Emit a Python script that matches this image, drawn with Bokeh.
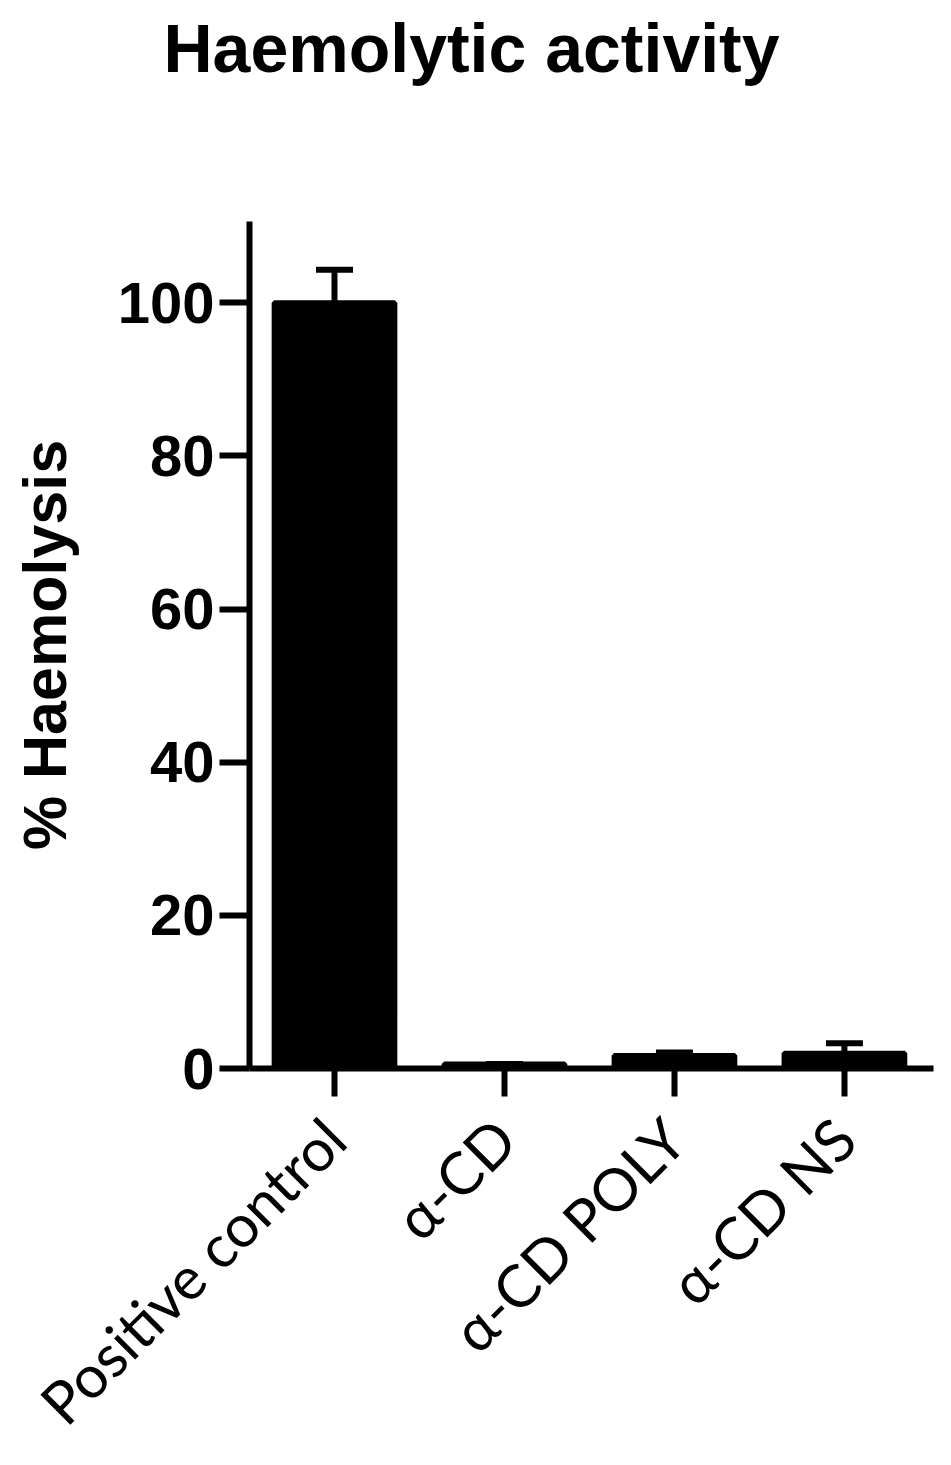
import math
from bokeh.plotting import figure
from bokeh.models import ColumnDataSource, FixedTicker, Whisker, TeeHead, Title
from bokeh.embed import file_html
from bokeh.resources import INLINE

title_text = "Haemolytic activity"
categories = ["Positive control", "\u03b1-CD", "\u03b1-CD POLY", "\u03b1-CD NS"]
haemolysis = [100.0, 0.6, 1.7, 2.0]
sem = [4.3, 0.0, 0.4, 1.3]
y_ticks = [0, 20, 40, 60, 80, 100]

xs = list(range(len(categories)))
src = ColumnDataSource(dict(
    x=xs, top=haemolysis,
    upper=[v + e for v, e in zip(haemolysis, sem)],
))

p = figure(width=951, height=1465, output_backend="svg", toolbar_location=None,
           x_range=(-0.5, 3.524), y_range=(0, 110.6))
p.min_border_left = 249
p.min_border_right = 18
p.min_border_top = 221
p.min_border_bottom = 397
p.outline_line_color = None
p.xgrid.visible = False
p.ygrid.visible = False

# spacer between the frame and the title (added first -> nearest the frame)
spacer = Title(text=" ", text_font_size="1px", standoff=131)
p.add_layout(spacer, "above")
main_title = Title(text=title_text, text_font="Liberation Sans", text_font_style="bold",
                   text_font_size="68px", text_color="black", align="left",
                   offset=-86, vertical_align="top", standoff=0)
p.add_layout(main_title, "above")

p.vbar(x="x", top="top", width=0.71, bottom=0, source=src,
       fill_color="black", line_color="black", line_width=5)

w = Whisker(source=src, base="x", lower="top", upper="upper", dimension="height",
            line_color="black", line_width=6,
            upper_head=TeeHead(size=37, line_color="black", line_width=6),
            lower_head=None)
p.add_layout(w)

for ax in (p.xaxis[0], p.yaxis[0]):
    ax.axis_line_width = 6
    ax.axis_line_color = "black"
    ax.major_tick_line_width = 6
    ax.major_tick_line_color = "black"
    ax.major_tick_in = 0
    ax.minor_tick_line_color = None

p.yaxis.ticker = FixedTicker(ticks=y_ticks)
p.yaxis.major_tick_out = 30
p.yaxis.major_label_standoff = 5
p.yaxis.major_label_text_font = "Liberation Sans"
p.yaxis.major_label_text_font_style = "bold"
p.yaxis.major_label_text_font_size = "58px"
p.yaxis.major_label_text_color = "black"
p.yaxis.axis_label = "% Haemolysis"
p.yaxis.axis_label_text_font = "Liberation Sans"
p.yaxis.axis_label_text_font_style = "bold"
p.yaxis.axis_label_text_font_size = "61px"
p.yaxis.axis_label_text_color = "black"
p.yaxis.axis_label_standoff = 36

p.xaxis.ticker = FixedTicker(ticks=xs)
p.xaxis.major_label_overrides = {i: c for i, c in zip(xs, categories)}
p.xaxis.major_tick_out = 28
p.xaxis.major_label_standoff = 32
p.xaxis.major_label_orientation = math.pi / 4
p.xaxis.major_label_text_font = "Lato"
p.xaxis.major_label_text_font_size = "59px"
p.xaxis.major_label_text_color = "black"

open("out.html", "w").write(file_html(p, INLINE))
